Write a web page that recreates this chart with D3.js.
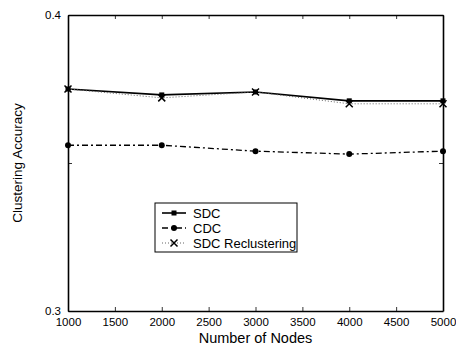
<!DOCTYPE html>
<html>
<head>
<meta charset="utf-8">
<script src="https://cdn.jsdelivr.net/npm/d3@7"></script>
<style>
  body { margin: 0; background: #fff; }
  text { font-family: "Liberation Sans", Arial, sans-serif; }
</style>
</head>
<body>
<script>
// Values
var nodes = [1000, 2000, 3000, 4000, 5000];
var sdc = [0.375, 0.373, 0.374, 0.371, 0.371];
var cdc = [0.356, 0.356, 0.354, 0.353, 0.354];
var sdcRecl = [0.375, 0.372, 0.374, 0.370, 0.370];
var xTicks = [1000, 1500, 2000, 2500, 3000, 3500, 4000, 4500, 5000];
var yTicks = [0.3, 0.35, 0.4];
var seriesNames = ["SDC", "CDC", "SDC Reclustering"];

var width = 456, height = 347;
// plot box edges (note: "top" is reserved on window, so use other names)
var padLeft = 68, padRight = 443, padTop = 15, padBottom = 311;

var svg = d3.select("body").append("svg")
    .attr("width", width)
    .attr("height", height);

var xScale = d3.scaleLinear().domain([1000, 5000]).range([padLeft, padRight]);
var yScale = d3.scaleLinear().domain([0.3, 0.4]).range([padBottom, padTop]);

// axes (ticks inside, on all four sides)
var xAxisB = d3.axisBottom(xScale).tickValues(xTicks).tickSizeInner(-4).tickSizeOuter(0).tickPadding(7)
    .tickFormat(d3.format("d"));
var xAxisT = d3.axisTop(xScale).tickValues(xTicks).tickSizeInner(-4).tickSizeOuter(0).tickFormat("");
var yAxisL = d3.axisLeft(yScale).tickValues(yTicks).tickSizeInner(-4).tickSizeOuter(0).tickPadding(7)
    .tickFormat(function(d) { return d === 0.35 ? "" : d3.format(".1f")(d); });
var yAxisR = d3.axisRight(yScale).tickValues(yTicks).tickSizeInner(-4).tickSizeOuter(0).tickFormat("");

function styleAxis(g) {
    g.select(".domain").attr("stroke", "#000").attr("stroke-width", 1.6);
    g.selectAll(".tick line").attr("stroke", "#000").attr("stroke-width", 0.8);
    g.selectAll(".tick text").attr("font-size", "11.5px").attr("fill", "#000")
        .attr("font-family", "Liberation Sans, Arial, sans-serif");
}

svg.append("g").attr("transform", "translate(0," + padBottom + ")").call(xAxisB).call(styleAxis);
svg.append("g").attr("transform", "translate(0," + padTop + ")").call(xAxisT).call(styleAxis);
svg.append("g").attr("transform", "translate(" + padLeft + ",0)").call(yAxisL).call(styleAxis);
svg.append("g").attr("transform", "translate(" + padRight + ",0)").call(yAxisR).call(styleAxis);

// lines
var line = d3.line()
    .x(function(d, i) { return xScale(nodes[i]); })
    .y(function(d) { return yScale(d); });

var styles = [
    { data: sdc, dash: null, width: 1.6, color: "#000" },
    { data: cdc, dash: "6,3,2,3", width: 1.3, color: "#000" },
    { data: sdcRecl, dash: "1,2", width: 1, color: "#666" }
];

styles.forEach(function(s) {
    svg.append("path")
        .attr("d", line(s.data))
        .attr("fill", "none")
        .attr("stroke", s.color)
        .attr("stroke-width", s.width)
        .attr("stroke-dasharray", s.dash);
});

// markers
function drawMarker(g, type, x, y) {
    if (type === 0) {
        g.append("rect").attr("x", x - 2.5).attr("y", y - 2.5).attr("width", 5).attr("height", 5).attr("fill", "#000");
    } else if (type === 1) {
        g.append("circle").attr("cx", x).attr("cy", y).attr("r", 3).attr("fill", "#000");
    } else {
        g.append("path").attr("d", "M" + (x - 3.5) + "," + (y - 3.5) + "L" + (x + 3.5) + "," + (y + 3.5) +
            "M" + (x - 3.5) + "," + (y + 3.5) + "L" + (x + 3.5) + "," + (y - 3.5))
            .attr("stroke", "#000").attr("stroke-width", 1.5);
    }
}

var markers = svg.append("g");
[sdc, cdc, sdcRecl].forEach(function(arr, k) {
    arr.forEach(function(v, i) {
        drawMarker(markers, k, xScale(nodes[i]), yScale(v));
    });
});

// legend
var legend = svg.append("g").attr("transform", "translate(155,203)");
legend.append("rect").attr("width", 142).attr("height", 49)
    .attr("fill", "#fff").attr("stroke", "#000").attr("stroke-width", 1);
seriesNames.forEach(function(name, k) {
    var yy = 10 + k * 15;
    legend.append("line").attr("x1", 7).attr("x2", 31).attr("y1", yy).attr("y2", yy)
        .attr("stroke", styles[k].color).attr("stroke-width", styles[k].width)
        .attr("stroke-dasharray", styles[k].dash);
    drawMarker(legend, k, 19, yy);
    legend.append("text").attr("x", 38).attr("y", yy).attr("dy", "0.36em")
        .attr("font-size", "13px").text(name);
});

// axis titles
svg.append("text")
    .attr("x", (padLeft + padRight) / 2).attr("y", 343)
    .attr("text-anchor", "middle").attr("font-size", "14.5px")
    .text("Number of Nodes");
svg.append("text")
    .attr("transform", "rotate(-90)")
    .attr("x", -(padTop + padBottom) / 2).attr("y", 22)
    .attr("text-anchor", "middle").attr("font-size", "13.5px")
    .text("Clustering Accuracy");
</script>
</body>
</html>
